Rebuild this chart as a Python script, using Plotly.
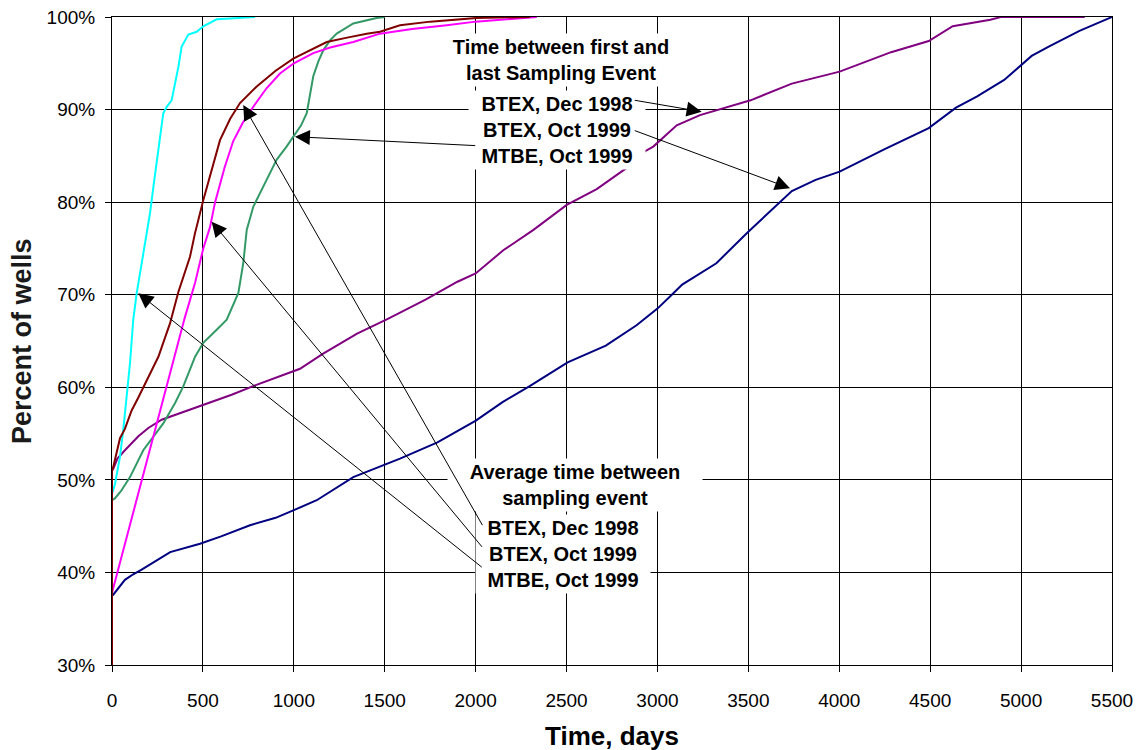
import plotly.graph_objects as go

# Cumulative percent of wells vs. time (days)
cyan_days = [0, 16, 30, 44, 62, 81, 99, 117, 136, 154, 191, 209, 230, 255, 282, 301, 328, 365, 383, 420, 466, 502, 576, 787]
cyan_pct = [48.5, 49.5, 51.0, 52.5, 55.4, 59.0, 62.6, 67.3, 70.2, 72.3, 77.0, 78.8, 82.0, 85.6, 89.6, 90.3, 91.0, 94.6, 96.8, 98.1, 98.4, 99.0, 99.75, 100]

maroon_days = [0, 0, 7, 25, 44, 71, 108, 145, 191, 255, 319, 365, 429, 456, 502, 550, 594, 650, 704, 796, 900, 997, 1100, 1181, 1300, 1401, 1474, 1584, 1750, 2006, 2300]
maroon_pct = [30, 51.0, 51.4, 53.0, 54.5, 55.5, 57.5, 58.9, 60.8, 63.3, 66.9, 70.3, 74.1, 76.6, 80.2, 83.5, 86.7, 89.0, 90.7, 92.5, 94.2, 95.5, 96.5, 97.3, 97.8, 98.2, 98.4, 99.1, 99.5, 99.9, 100]

magenta_days = [0, 100, 200, 300, 400, 457, 502, 539, 567, 620, 667, 720, 777, 850, 924, 1000, 1107, 1200, 1327, 1474, 1650, 1841, 2000, 2336]
magenta_pct = [37.8, 45.2, 52.6, 60.0, 67.5, 71.3, 75.0, 77.3, 80.0, 83.8, 86.6, 88.6, 90.3, 92.3, 93.9, 95.0, 96.1, 96.7, 97.3, 98.2, 98.7, 99.1, 99.5, 100]

green_days = [0, 16, 50, 99, 172, 220, 282, 347, 392, 457, 502, 580, 631, 695, 722, 741, 777, 840, 906, 960, 997, 1040, 1071, 1090, 1107, 1135, 1162, 1200, 1236, 1327, 1456, 1500]
green_pct = [47.8, 48.0, 48.8, 50.3, 53.2, 54.5, 56.1, 58.3, 60.1, 63.3, 64.8, 66.3, 67.3, 70.2, 73.4, 77.0, 79.5, 82.0, 84.6, 86.0, 87.1, 88.3, 89.6, 91.5, 93.6, 95.2, 96.4, 97.5, 98.2, 99.3, 99.9, 100]

purple_days = [0, 7, 30, 71, 145, 200, 273, 401, 512, 658, 787, 900, 1034, 1159, 1348, 1517, 1727, 1900, 2000, 2152, 2318, 2501, 2666, 2831, 2932, 2977, 3106, 3234, 3399, 3512, 3739, 4002, 4285, 4492, 4624, 4831, 4888, 5350]
purple_pct = [51.0, 51.2, 52.3, 53.2, 54.7, 55.6, 56.5, 57.4, 58.1, 59.2, 60.2, 61.0, 62.0, 63.6, 65.8, 67.4, 69.5, 71.4, 72.3, 74.8, 77.0, 79.7, 81.4, 83.7, 85.5, 86.0, 88.3, 89.4, 90.4, 91.0, 92.8, 94.1, 96.2, 97.4, 99.0, 99.7, 100, 100]

navy_days = [0, 7, 71, 117, 163, 282, 320, 484, 600, 759, 900, 997, 1126, 1327, 1584, 1790, 2001, 2148, 2295, 2506, 2716, 2885, 3000, 3079, 3136, 3324, 3494, 3739, 3870, 4002, 4247, 4492, 4642, 4756, 4907, 5058, 5152, 5321, 5500]
navy_pct = [37.5, 37.6, 39.2, 39.8, 40.3, 41.8, 42.2, 43.1, 43.9, 45.1, 45.9, 46.7, 47.8, 50.3, 52.3, 54.05, 56.4, 58.4, 60.1, 62.7, 64.5, 66.7, 68.5, 70.0, 71.1, 73.4, 76.7, 81.2, 82.4, 83.3, 85.7, 88.0, 90.2, 91.4, 93.2, 95.8, 96.8, 98.5, 100]

x_ticks = [0, 500, 1000, 1500, 2000, 2500, 3000, 3500, 4000, 4500, 5000, 5500]
y_ticks = [30, 40, 50, 60, 70, 80, 90, 100]

FONT = "Liberation Sans, Arial, sans-serif"

series = [
    (navy_days, navy_pct, "#000080"),
    (purple_days, purple_pct, "#800080"),
    (green_days, green_pct, "#339966"),
    (magenta_days, magenta_pct, "#FF00FF"),
    (cyan_days, cyan_pct, "#00FFFF"),
    (maroon_days, maroon_pct, "#800000"),
]

fig = go.Figure()
for xs, ys, color in series:
    fig.add_trace(go.Scatter(x=xs, y=ys, mode="lines",
                             line=dict(color=color, width=2),
                             showlegend=False, hoverinfo="skip"))

annotations = []

def textbox(x, y, text, width):
    return dict(x=x, y=y, xref="x", yref="y", text=text, showarrow=False,
                xanchor="center", yanchor="middle", align="center",
                bgcolor="white", borderpad=2, width=width,
                font=dict(family=FONT, size=20, color="black"))

annotations += [
    textbox(2470, 95.35, "<b>Time between first and<br>last Sampling Event</b>", 226),
    textbox(2450, 87.79, "<b>BTEX, Dec 1998<br>BTEX, Oct 1999<br>MTBE, Oct 1999</b>", 172),
    textbox(2546, 49.48, "<b>Average time between<br>sampling event</b>", 250),
    textbox(2480, 41.99, "<b>BTEX, Dec 1998<br>BTEX, Oct 1999<br>MTBE, Oct 1999</b>", 170),
]

# arrows: (tip x, tip y, tail x, tail y) in data units
arrows = [
    (3243, 89.77, 2867, 91.03),
    (3729, 81.50, 2867, 87.79),
    (1006, 87.07, 2006, 86.10),
    (722, 90.49, 2042, 44.94),
    (548, 77.89, 2042, 42.60),
    (145, 70.15, 2042, 40.44),
]
for tx, ty, sx, sy in arrows:
    annotations.append(dict(
        x=tx, y=ty, ax=sx, ay=sy, xref="x", yref="y", axref="x", ayref="y",
        text="", showarrow=True, arrowhead=2, arrowsize=3, arrowwidth=1,
        arrowcolor="black", standoff=0,
    ))

# axis titles
annotations.append(dict(x=0.5, y=-0.1096, xref="paper", yref="paper",
                        text="<b>Time, days</b>", showarrow=False,
                        xanchor="center", yanchor="middle",
                        font=dict(family=FONT, size=26, color="black")))
annotations.append(dict(x=-0.09, y=0.5, xref="paper", yref="paper",
                        text="<b>Percent of wells</b>", showarrow=False,
                        textangle=-90, xanchor="center", yanchor="middle",
                        font=dict(family=FONT, size=27, color="#1a1a1a")))

fig.update_layout(
    width=1137, height=750,
    margin=dict(l=112, r=25, t=17, b=85, autoexpand=False),
    paper_bgcolor="white", plot_bgcolor="white",
    font=dict(family=FONT, size=19, color="black"),
    annotations=annotations,
)

fig.update_xaxes(range=[0, 5500], tickvals=x_ticks, ticktext=[str(v) for v in x_ticks],
                 showgrid=True, gridcolor="black", gridwidth=1,
                 showline=True, linecolor="black", linewidth=1, mirror=True,
                 ticks="outside", ticklen=6, tickcolor="black", tickwidth=1,
                 ticklabelstandoff=12, zeroline=False, automargin=False,
                 tickfont=dict(family=FONT, size=19, color="black"))
fig.update_yaxes(range=[30, 100], tickvals=y_ticks, ticktext=[f"{v}%" for v in y_ticks],
                 showgrid=True, gridcolor="black", gridwidth=1,
                 showline=True, linecolor="black", linewidth=1, mirror=True,
                 ticks="outside", ticklen=6, tickcolor="black", tickwidth=1,
                 ticklabelstandoff=6, zeroline=False, automargin=False,
                 tickfont=dict(family=FONT, size=19, color="black"))

fig.write_html("out.html")
